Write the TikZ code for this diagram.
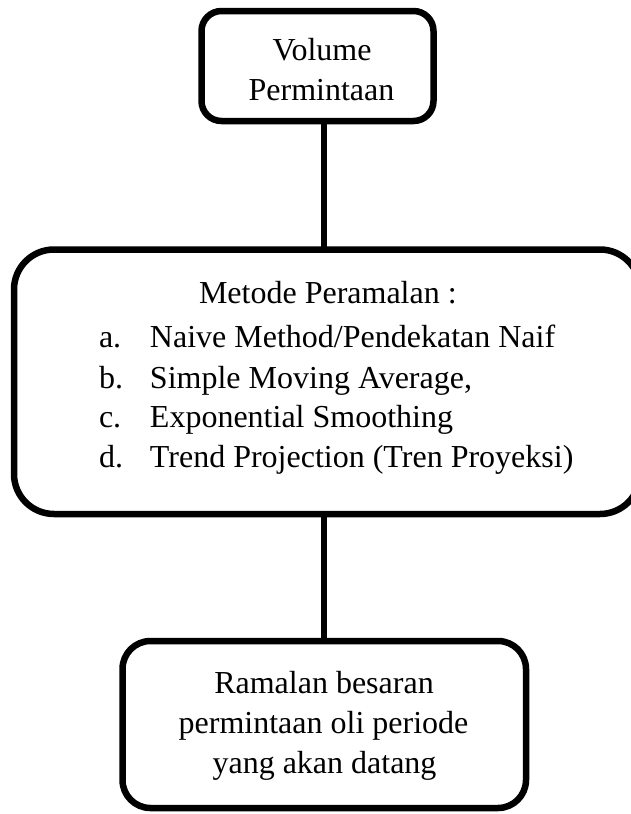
\documentclass[tikz,border=0pt]{standalone}
\usepackage{fontspec}
\setmainfont{Liberation Serif}
\begin{document}
\begin{tikzpicture}[x=1pt,y=-1pt,
  box/.style={draw=black, line width=6.5pt, rounded corners=#1, inner sep=0pt, outer sep=0pt},
  conn/.style={draw=black, line width=6pt},
  txt/.style={inner sep=0pt, outer sep=0pt, font=\fontsize{32}{40}\selectfont}]
\useasboundingbox (0,0) rectangle (630,814);
% boxes
\node[box=20pt, minimum width=232pt, minimum height=110pt] (vol) at (317.5,66) {};
\node[box=40pt, minimum width=626pt, minimum height=264.5pt] (met) at (327,381.75) {};
\node[box=28pt, minimum width=403.5pt, minimum height=167pt] (ram) at (324.25,724.5) {};
% connectors
\coordinate (cx) at (323.5,0);
\draw[conn] (vol.south -| cx) -- (met.north -| cx);
\draw[conn] (met.south -| cx) -- (ram.north -| cx);
% top text
\node[txt, anchor=base] (vol1) at (322,60) {Volume};
\node[txt, anchor=base] (vol2) at (321.5,100) {Permintaan};
% middle text
\node[txt, anchor=base west] (mh) at (199,303.5) {Metode Peramalan :};
\node[txt, anchor=base west] (ma) at (99,347) {\makebox[51pt][l]{a.}Naive Method/Pendekatan Naif};
\node[txt, anchor=base west] (mb) at (99,388) {\makebox[51pt][l]{b.}Simple Moving Average,};
\node[txt, anchor=base west] (mc) at (99,427.5) {\makebox[51pt][l]{c.}Exponential Smoothing};
\node[txt, anchor=base west] (md) at (99,467) {\makebox[51pt][l]{d.}Trend Projection (Tren Proyeksi)};
% bottom text
\node[txt, anchor=base] (r1) at (324,693) {Ramalan besaran};
\node[txt, anchor=base] (r2) at (323.5,733) {permintaan oli periode};
\node[txt, anchor=base] (r3) at (324.5,773) {yang akan datang};
\end{tikzpicture}
\end{document}
